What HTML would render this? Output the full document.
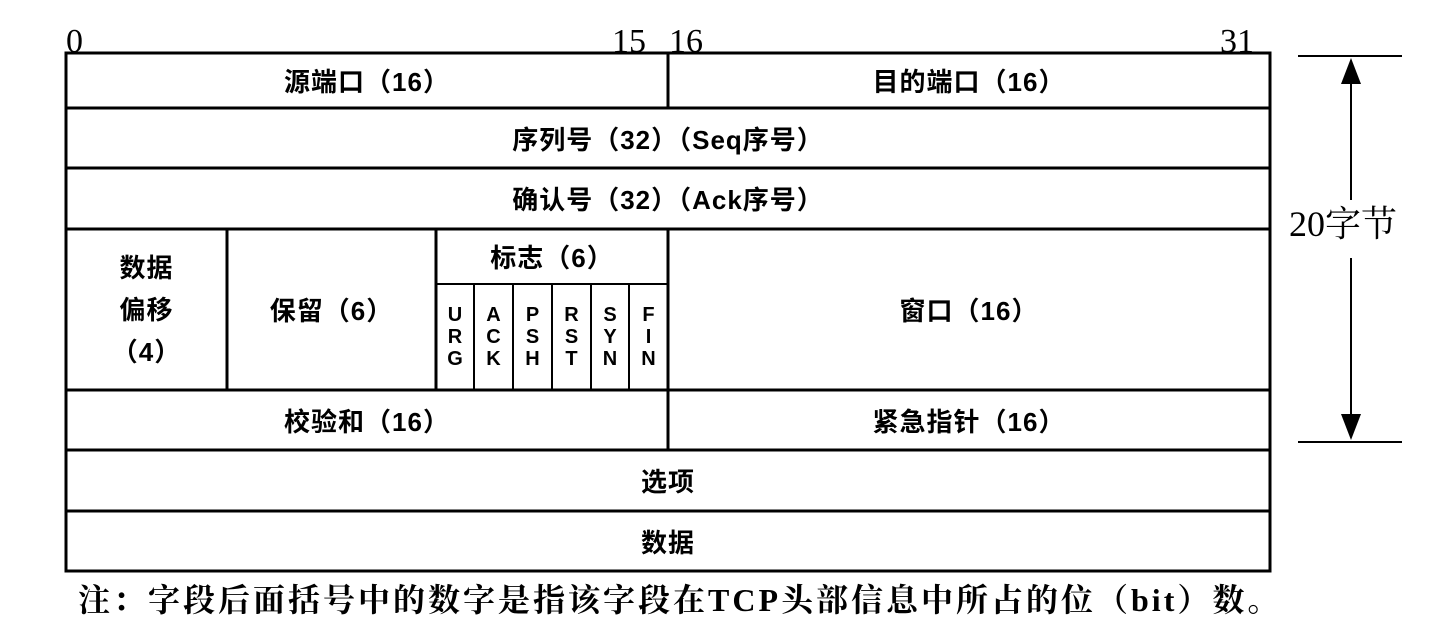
<!DOCTYPE html>
<html><head><meta charset="utf-8"><style>
html,body{margin:0;padding:0;background:#fff;width:1433px;height:623px;overflow:hidden;position:relative}
.t{position:absolute;font-family:"Liberation Sans","Noto Sans CJK SC",sans-serif;font-weight:bold;font-size:26px;letter-spacing:1px;color:#000;text-align:center;display:flex;align-items:center;justify-content:center}
.n{position:absolute;font-family:"Liberation Serif","Noto Serif CJK SC",serif;font-size:34px;color:#000;line-height:1}
.f{font-size:20px;line-height:22px;letter-spacing:0}
</style></head><body>
<div class="n" style="left:66px;top:25px">0</div>
<div class="n" style="left:612px;top:25px">15</div>
<div class="n" style="left:669px;top:25px">16</div>
<div class="n" style="left:1220px;top:25px">31</div>
<svg style="position:absolute;left:0;top:0" width="1433" height="623">
<g stroke="#000" stroke-width="3" fill="none">
<rect x="66" y="53" width="1204" height="518"/>
<line x1="66" y1="108" x2="1270" y2="108"/>
<line x1="66" y1="168" x2="1270" y2="168"/>
<line x1="66" y1="229" x2="1270" y2="229"/>
<line x1="66" y1="390" x2="1270" y2="390"/>
<line x1="66" y1="450" x2="1270" y2="450"/>
<line x1="66" y1="511" x2="1270" y2="511"/>
<line x1="668" y1="53" x2="668" y2="108"/>
<line x1="668" y1="229" x2="668" y2="450"/>
<line x1="227" y1="229" x2="227" y2="390"/>
<line x1="436" y1="229" x2="436" y2="390"/>
<line x1="436" y1="284" x2="668" y2="284" stroke-width="2"/>
<g stroke-width="2"><line x1="474" y1="284" x2="474" y2="390"/><line x1="513" y1="284" x2="513" y2="390"/><line x1="552" y1="284" x2="552" y2="390"/><line x1="591" y1="284" x2="591" y2="390"/><line x1="629" y1="284" x2="629" y2="390"/></g>
<line x1="1298" y1="56" x2="1402" y2="56" stroke-width="2"/>
<line x1="1298" y1="442" x2="1402" y2="442" stroke-width="2"/>
<line x1="1351" y1="70" x2="1351" y2="200" stroke-width="2"/>
<line x1="1351" y1="258" x2="1351" y2="428" stroke-width="2"/>
</g>
<polygon points="1351,58 1341,84 1361,84" fill="#000"/>
<polygon points="1351,440 1341,414 1361,414" fill="#000"/>
</svg>
<div class="n" style="left:1289px;top:206px;font-size:36px">20字节</div>
<div class="t" style="left:66px;top:53px;width:602px;height:55px">源端口（16）</div>
<div class="t" style="left:668px;top:53px;width:602px;height:55px">目的端口（16）</div>
<div class="t" style="left:66px;top:108px;width:1204px;height:60px">序列号（32）（Seq序号）</div>
<div class="t" style="left:66px;top:168px;width:1204px;height:61px">确认号（32）（Ack序号）</div>
<div class="t" style="left:66px;top:229px;width:161px;height:161px;line-height:42px">数据<br>偏移<br>（4）</div>
<div class="t" style="left:227px;top:229px;width:209px;height:161px">保留（6）</div>
<div class="t" style="left:436px;top:229px;width:232px;height:55px">标志（6）</div>
<div class="t f" style="left:436px;top:284px;width:38px;height:106px">U<br>R<br>G</div>
<div class="t f" style="left:474px;top:284px;width:39px;height:106px">A<br>C<br>K</div>
<div class="t f" style="left:513px;top:284px;width:39px;height:106px">P<br>S<br>H</div>
<div class="t f" style="left:552px;top:284px;width:39px;height:106px">R<br>S<br>T</div>
<div class="t f" style="left:591px;top:284px;width:38px;height:106px">S<br>Y<br>N</div>
<div class="t f" style="left:629px;top:284px;width:39px;height:106px">F<br>I<br>N</div>
<div class="t" style="left:668px;top:229px;width:602px;height:161px">窗口（16）</div>
<div class="t" style="left:66px;top:390px;width:602px;height:60px">校验和（16）</div>
<div class="t" style="left:668px;top:390px;width:602px;height:60px">紧急指针（16）</div>
<div class="t" style="left:66px;top:450px;width:1204px;height:61px">选项</div>
<div class="t" style="left:66px;top:511px;width:1204px;height:60px">数据</div>
<div class="n" style="left:78px;top:584px;font-size:32px;letter-spacing:3px;font-weight:bold;white-space:nowrap">注：字段后面括号中的数字是指该字段在TCP头部信息中所占的位（bit）数。</div>
</body></html>
